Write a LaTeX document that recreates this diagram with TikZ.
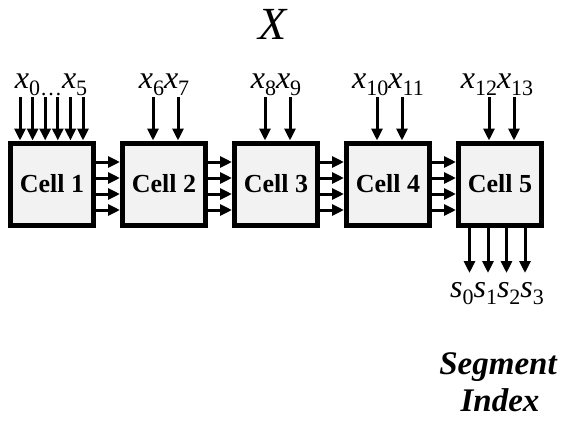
\documentclass[tikz,border=0pt]{standalone}
\usepackage{fontspec}
\setmainfont{Liberation Serif}
\usetikzlibrary{arrows.meta}
\newcommand\xsub[1]{\raisebox{-0.22em}{\fontsize{22}{22}\selectfont\upshape #1}}
\newcommand\xv[1]{\textit{x}\xsub{#1}}
\newcommand\sv[1]{\textit{s}\xsub{#1}}
\definecolor{cellfill}{HTML}{F2F2F2}
\begin{document}
\begin{tikzpicture}[x=1pt,y=-1pt,
  cell/.style={draw=black,line width=5pt,fill=cellfill,minimum width=83pt,minimum height=82pt,inner sep=0pt,
    font=\fontsize{26}{30}\selectfont\bfseries},
  lab/.style={inner sep=0pt,anchor=base,font=\fontsize{32}{36}\selectfont},
  arr/.style={line width=3pt,-{Triangle[length=12pt,width=11pt]}}]
\useasboundingbox (0,0) rectangle (563,421);
\node[lab,font=\fontsize{46}{52}\selectfont\itshape] (X) at (273,39) {X};
% cells
\foreach \i/\cx in {1/52,2/164,3/276,4/388,5/500}{
  \node[cell] (c\i) at (\cx,184) {Cell \i};
}
% input labels
\node[lab] (l1) at (51,88) {\xv{0}\xsub{…}\xv{5}};
\node[lab] (l2) at (164,88) {\xv{6}\xv{7}};
\node[lab] (l3) at (276,88) {\xv{8}\xv{9}};
\node[lab] (l4) at (388,88) {\xv{10}\xv{11}};
\node[lab] (l5) at (497,88) {\xv{12}\xv{13}};
% input arrows cell 1
\foreach \k/\xx in {a/20,b/32.6,c/45.2,d/57.8,e/70.4,f/83}{
  \coordinate (t1\k) at (\xx,97);
  \draw[arr] (t1\k) -- (t1\k |- c1.north);
}
% input arrows cells 2-5
\foreach \i/\xa/\xb in {2/153/178,3/265/290,4/377/402,5/489/514}{
  \coordinate (t\i a) at (\xa,97);
  \coordinate (t\i b) at (\xb,97);
  \draw[arr] (t\i a) -- (t\i a |- c\i.north);
  \draw[arr] (t\i b) -- (t\i b |- c\i.north);
}
% inter-cell arrows
\foreach \i/\j in {1/2,2/3,3/4,4/5}{
  \foreach \yy in {162,178,194,210}{
    \draw[arr] (c\i.east |- 0,\yy) -- (c\j.west |- 0,\yy);
  }
}
% outputs
\foreach \k/\xx in {a/469.5,b/488,c/506.5,d/525}{
  \coordinate (o\k) at (\xx,273);
  \draw[arr] (o\k |- c5.south) -- (o\k);
}
\node[lab] (s) at (497,297) {\sv{0}\sv{1}\sv{2}\sv{3}};
\node[lab,font=\fontsize{33}{36}\selectfont\bfseries\itshape] (seg) at (498,374) {Segment};
\node[lab,font=\fontsize{33}{36}\selectfont\bfseries\itshape] (idx) at (500,411) {Index};
\end{tikzpicture}
\end{document}
